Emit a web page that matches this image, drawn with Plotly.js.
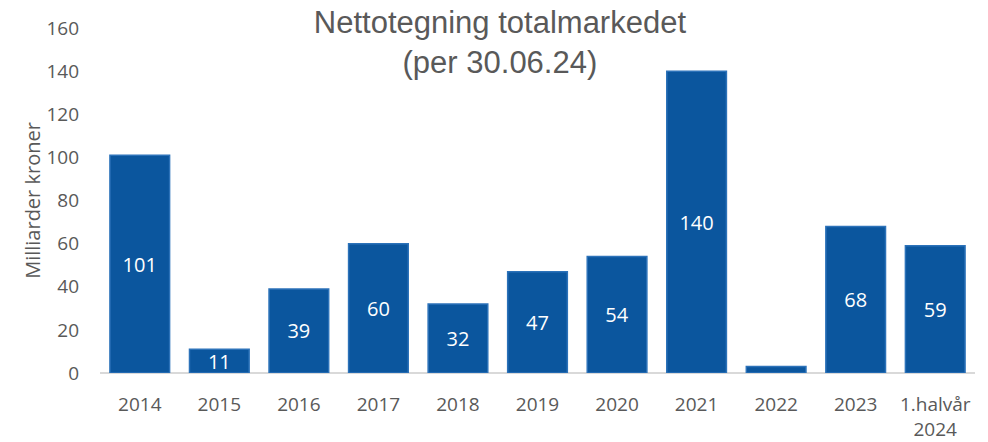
<html>
<head>
    <meta charset="utf-8">
    <script src="https://cdn.plot.ly/plotly-3.0.1.min.js"></script>
    <style>
        body { margin: 0; padding: 0; background: white; }
        #chart { width: 988px; height: 442px; }
    </style>
</head>
<body>
    <div id="chart"></div>
    <script>
        // Kategorier og verdier lest av figuren
        const categories = ['2014', '2015', '2016', '2017', '2018', '2019', '2020', '2021', '2022', '2023', '1.halvår<br>2024'];
        const values = [101, 11, 39, 60, 32, 47, 54, 140, 3, 68, 59];
        const labels = ['101', '11', '39', '60', '32', '47', '54', '140', '', '68', '59'];
        const yTicks = [0, 20, 40, 60, 80, 100, 120, 140, 160];

        const font = "'Open Sans', 'Noto Sans', sans-serif";

        const bars = {
            x: categories,
            y: values,
            type: 'bar',
            text: labels,
            textposition: 'inside',
            insidetextanchor: 'middle',
            textangle: 0,
            constraintext: 'none',
            cliponaxis: false,
            textfont: { family: font, size: 20, color: 'white' },
            marker: {
                color: '#0b569e',
                line: { color: '#2c72b9', width: 1.5 }
            },
            hoverinfo: 'x+y'
        };

        const layout = {
            width: 988,
            height: 442,
            margin: { l: 100, r: 13, t: 28, b: 69 },
            paper_bgcolor: 'white',
            plot_bgcolor: 'white',
            bargap: 0.25,
            showlegend: false,
            title: {
                text: 'Nettotegning totalmarkedet<br>(per 30.06.24)',
                font: { family: 'Liberation Sans, Arial, sans-serif', size: 31, color: '#595959' },
                x: 0.506,
                xanchor: 'center',
                y: 0.925,
                yanchor: 'top'
            },
            xaxis: {
                type: 'category',
                showgrid: false,
                showline: false,
                ticks: '',
                ticklabelstandoff: 18,
                tickfont: { family: font, size: 19, color: '#595959' },
                fixedrange: true
            },
            yaxis: {
                range: [0, 160],
                tickvals: yTicks,
                showgrid: false,
                zeroline: true,
                zerolinecolor: '#d9d9d9',
                zerolinewidth: 2,
                ticks: '',
                ticklabelstandoff: 20,
                tickfont: { family: font, size: 19, color: '#595959' },
                title: {
                    text: 'Milliarder kroner',
                    font: { family: font, size: 20, color: '#595959' },
                    standoff: 0
                },
                fixedrange: true
            }
        };

        Plotly.newPlot('chart', [bars], layout, { displayModeBar: false, staticPlot: true });
    </script>
</body>
</html>
